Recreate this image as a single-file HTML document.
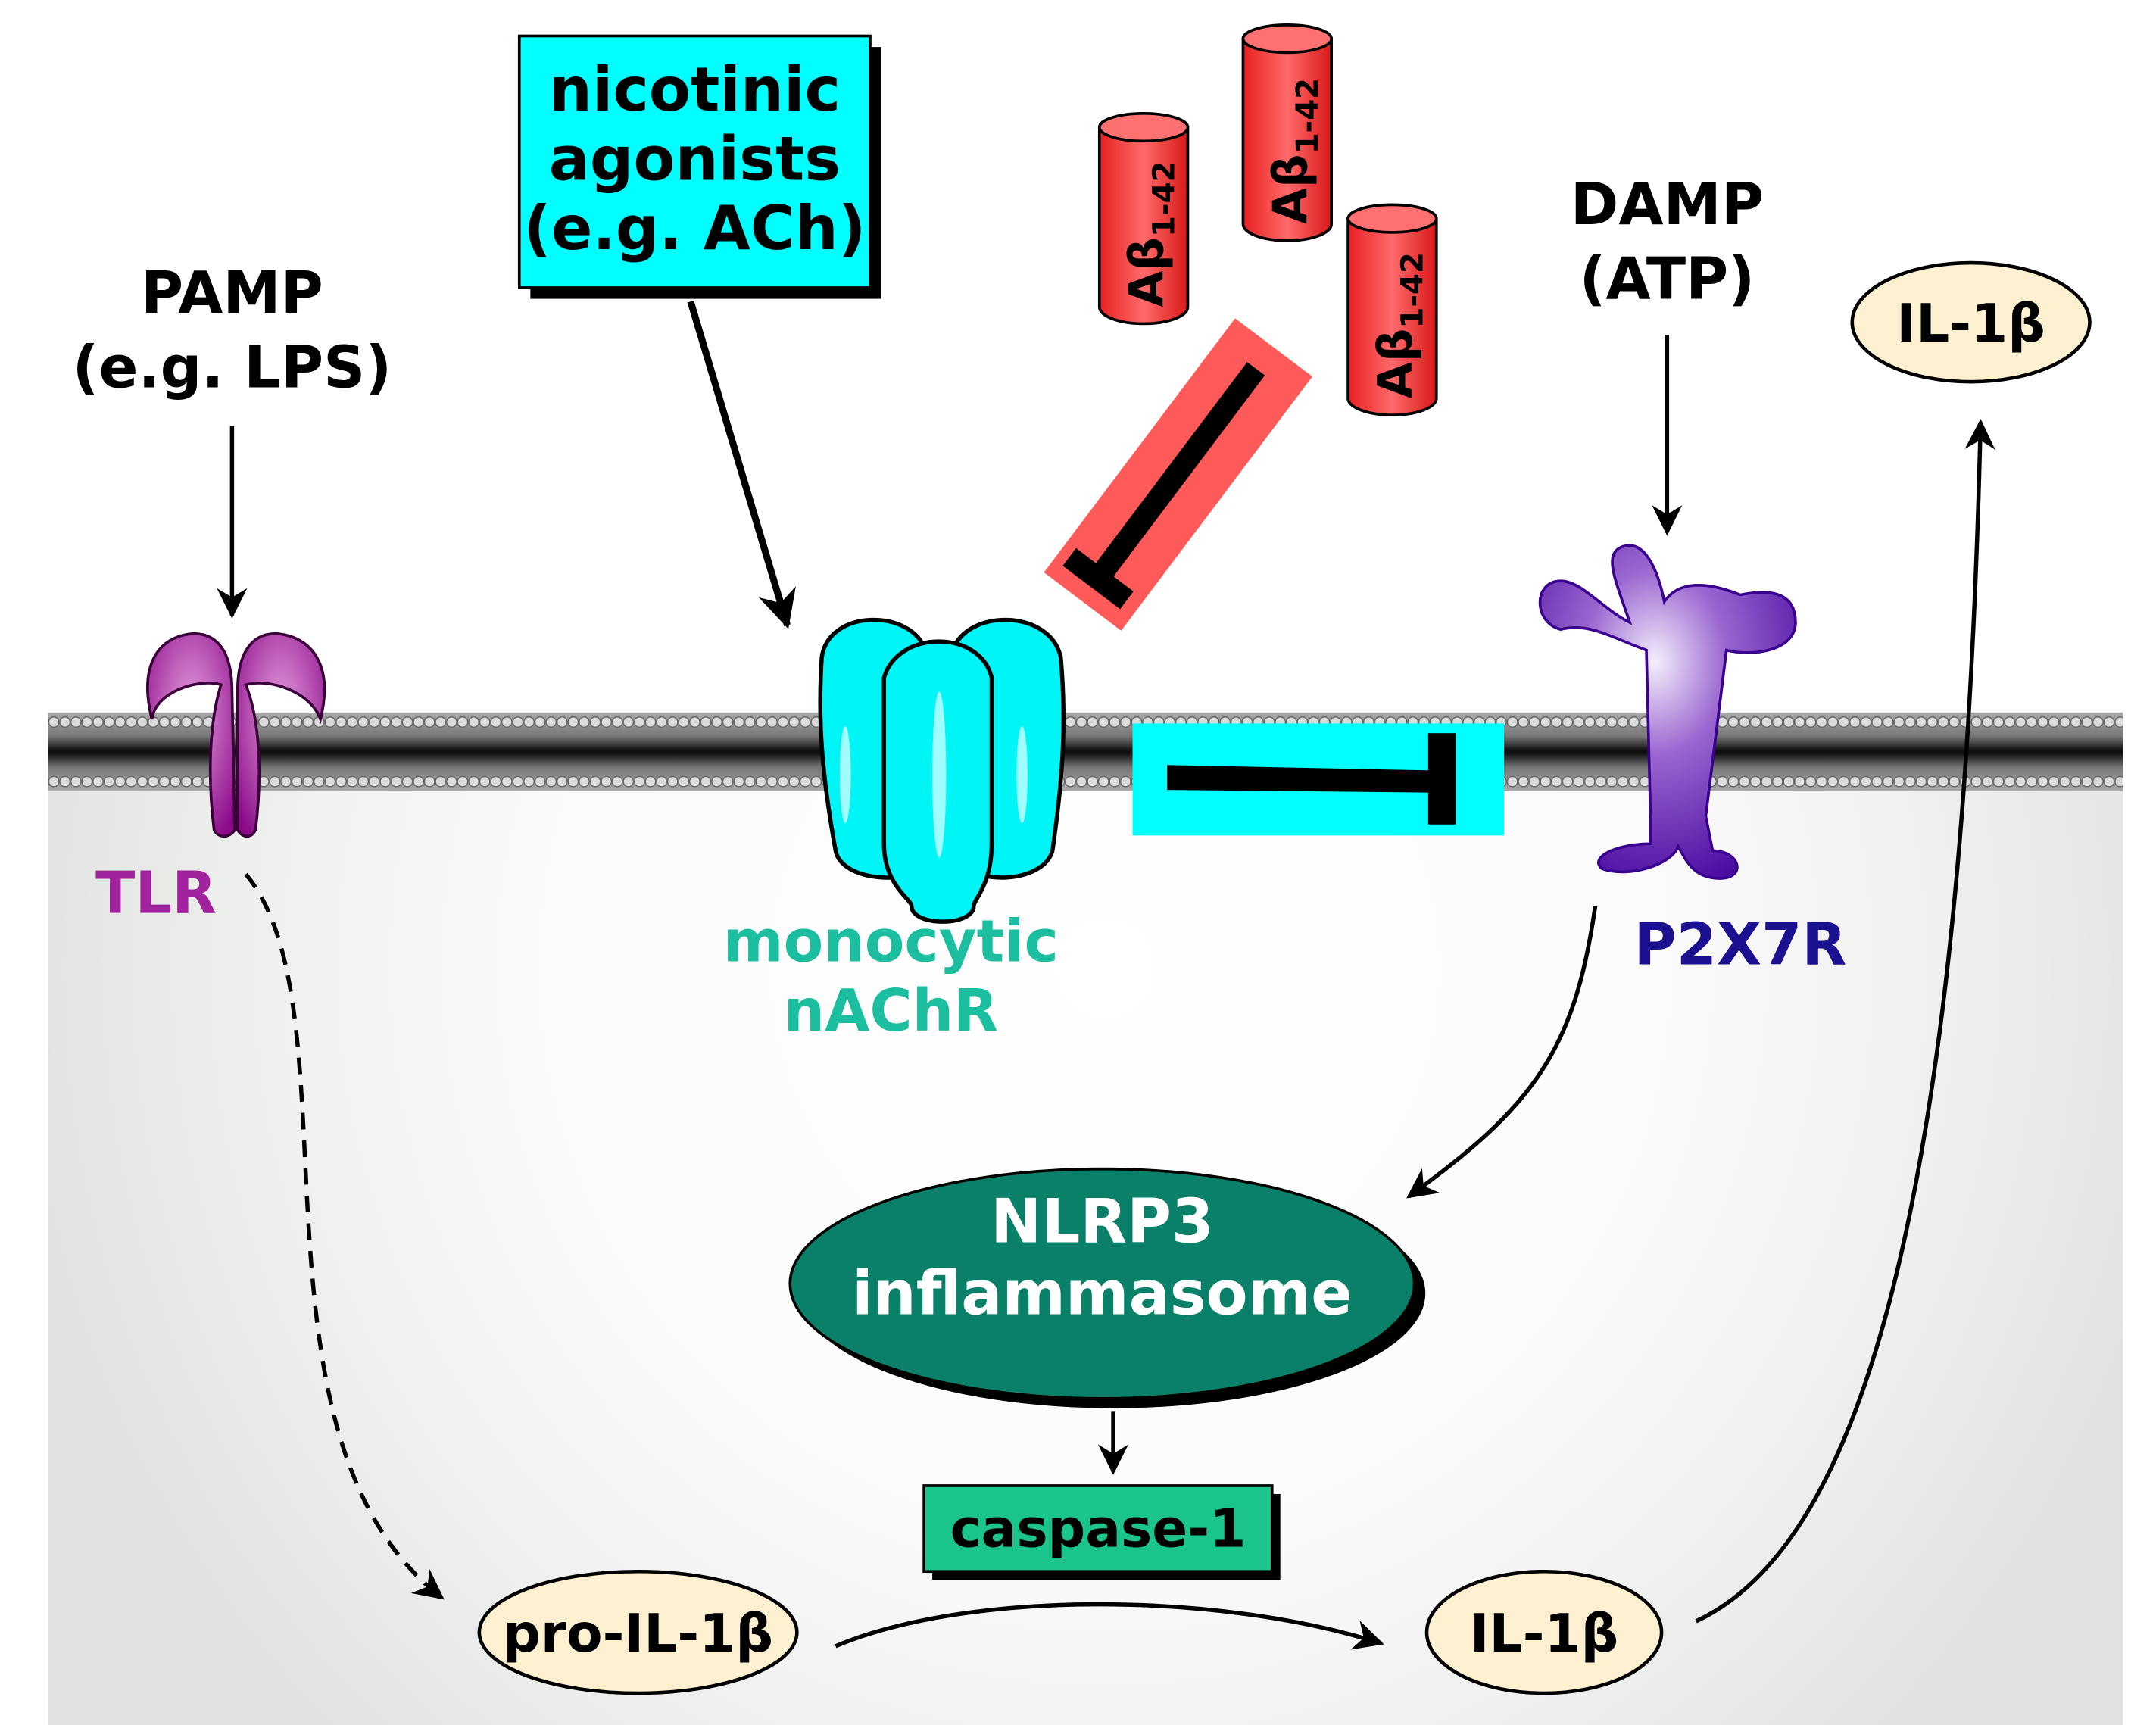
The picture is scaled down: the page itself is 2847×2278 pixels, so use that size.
<!DOCTYPE html>
<html><head><meta charset="utf-8"><style>
html,body{margin:0;padding:0;background:#fff;}
svg{display:block;}
text{font-family:"DejaVu Sans","Liberation Sans",Arial,sans-serif;font-weight:bold;}
</style></head><body>
<svg width="2847" height="2278" viewBox="0 0 1561 1247" preserveAspectRatio="none" xmlns="http://www.w3.org/2000/svg">
<defs>
<radialGradient id="bg" cx="800" cy="700" r="800" gradientUnits="userSpaceOnUse">
<stop offset="0" stop-color="#ffffff"/><stop offset="0.5" stop-color="#fbfbfb"/><stop offset="0.8" stop-color="#eceeec"/><stop offset="1" stop-color="#e0e2e0"/>
</radialGradient>
<pattern id="lipT" x="35" y="515" width="8" height="14" patternUnits="userSpaceOnUse">
<circle cx="4" cy="7" r="3.7" fill="#dcdcdc" stroke="#666" stroke-width="0.8"/>
</pattern>
<pattern id="lipB" x="35" y="558" width="8" height="14" patternUnits="userSpaceOnUse">
<circle cx="4" cy="7" r="3.7" fill="#dcdcdc" stroke="#666" stroke-width="0.8"/>
</pattern>
<linearGradient id="mem" x1="0" y1="0" x2="0" y2="1">
<stop offset="0" stop-color="#aaa"/><stop offset="0.3" stop-color="#777"/><stop offset="0.48" stop-color="#111"/><stop offset="0.52" stop-color="#111"/><stop offset="0.7" stop-color="#777"/><stop offset="1" stop-color="#aaa"/>
</linearGradient>
<linearGradient id="red" x1="0" y1="0" x2="1" y2="0"><stop offset="0" stop-color="#e82020"/><stop offset="0.5" stop-color="#ff6a6a"/><stop offset="1" stop-color="#d81818"/></linearGradient>
<radialGradient id="purp" cx="0.45" cy="0.35" r="0.7"><stop offset="0" stop-color="#f4eefc"/><stop offset="0.4" stop-color="#9a66d0"/><stop offset="1" stop-color="#4a0aa0"/></radialGradient>
<radialGradient id="mag" cx="0.5" cy="0.4" r="0.7"><stop offset="0" stop-color="#e8a0e0"/><stop offset="1" stop-color="#8a0a88"/></radialGradient>
<marker id="ah" viewBox="0 0 10 10" refX="9" refY="5" markerWidth="26" markerHeight="22" orient="auto" markerUnits="userSpaceOnUse"><path d="M0,0 L10,5 L0,10 L3,5z" fill="#000"/></marker>
<marker id="ahB" viewBox="0 0 10 10" refX="9" refY="5" markerWidth="40" markerHeight="28" orient="auto" markerUnits="userSpaceOnUse"><path d="M0,0 L10,5 L0,10 L3,5z" fill="#000"/></marker>
</defs>
<rect x="0" y="0" width="1561" height="1247" fill="#fff"/>
<rect x="35" y="572" width="1502" height="675" fill="url(#bg)"/>
<!-- membrane -->
<rect x="35" y="515" width="1502" height="57" fill="url(#mem)"/>
<rect x="35" y="515" width="1502" height="14" fill="url(#lipT)"/>
<rect x="35" y="558" width="1502" height="14" fill="url(#lipB)"/>

<!-- TLR -->
<g fill="url(#mag)" stroke="#3a003a" stroke-width="2">
<path d="M155,600 C150,560 152,520 160,495 C145,490 112,500 110,520 C100,480 115,460 140,458 C160,458 168,475 168,500 L170,600 C166,606 158,606 155,600z"/>
<path d="M185,600 C190,560 188,520 178,495 C195,490 225,500 232,520 C242,480 225,460 200,458 C180,458 172,475 172,500 L172,600 C176,606 182,606 185,600z"/>
</g>
<text x="113" y="660" font-size="42" fill="#a0229c" text-anchor="middle">TLR</text>

<!-- PAMP -->
<text x="168" y="226" font-size="42" fill="#000" text-anchor="middle">PAMP</text>
<text x="168" y="280" font-size="42" fill="#000" text-anchor="middle">(e.g. LPS)</text>
<line x1="168" y1="308" x2="168" y2="445" stroke="#000" stroke-width="3" marker-end="url(#ah)"/>

<!-- nicotinic box -->
<rect x="384" y="34" width="254" height="182" fill="#000"/>
<rect x="376" y="26" width="254" height="182" fill="#00ffff" stroke="#000" stroke-width="2"/>
<text x="503" y="80" font-size="44" text-anchor="middle">nicotinic</text>
<text x="503" y="130" font-size="44" text-anchor="middle">agonists</text>
<text x="503" y="180" font-size="44" text-anchor="middle">(e.g. ACh)</text>
<line x1="500" y1="218" x2="570" y2="452" stroke="#000" stroke-width="5" marker-end="url(#ahB)"/>

<!-- nAChR -->
<g fill="#00f6f6" stroke="#000" stroke-width="3">
<path d="M595,475 C600,440 660,440 670,470 L675,620 C670,640 610,640 605,615 C595,560 592,520 595,475z"/>
<path d="M690,470 C700,440 760,440 768,475 C772,520 770,560 762,615 C755,640 700,640 695,620 L690,470z"/>
<path d="M640,490 C650,455 710,455 718,490 L718,610 C718,640 705,650 705,655 C705,670 660,670 660,655 C660,650 640,640 640,610z"/>
</g>
<g fill="#c8ffff" opacity="0.8"><ellipse cx="680" cy="560" rx="5" ry="60"/><ellipse cx="612" cy="560" rx="4" ry="35"/><ellipse cx="740" cy="560" rx="4" ry="35"/></g>
<text x="645" y="695" font-size="42" fill="#1bbfa0" text-anchor="middle">monocytic</text>
<text x="645" y="745" font-size="42" fill="#1bbfa0" text-anchor="middle">nAChR</text>

<!-- inhibit cyan -->
<rect x="820" y="523" width="269" height="81" fill="#00ffff"/>
<polygon points="845,553 1040,557 1040,573 845,571" fill="#000"/>
<rect x="1034" y="530" width="20" height="66" fill="#000"/>

<!-- red inhibit -->
<g transform="rotate(37 853 343)">
<rect x="818" y="228" width="70" height="230" fill="#ff5a5a"/>
<rect x="844" y="248" width="16" height="190" fill="#000"/>
<rect x="826" y="430" width="52" height="16" fill="#000"/>
</g>

<!-- Abeta cylinders -->
<g stroke="#000" stroke-width="2">
<g><path d="M796,92 L796,222 A32,12 0 0,0 860,222 L860,92z" fill="url(#red)"/><ellipse cx="828" cy="92" rx="32" ry="10" fill="#ff7070"/>
<text transform="translate(842,222) rotate(-90)" font-size="34" stroke="none">Aβ<tspan font-size="22" dy="8">1-42</tspan></text></g>
<g><path d="M900,28 L900,162 A32,12 0 0,0 964,162 L964,28z" fill="url(#red)"/><ellipse cx="932" cy="28" rx="32" ry="10" fill="#ff7070"/>
<text transform="translate(946,162) rotate(-90)" font-size="34" stroke="none">Aβ<tspan font-size="22" dy="8">1-42</tspan></text></g>
<g><path d="M976,158 L976,288 A32,12 0 0,0 1040,288 L1040,158z" fill="url(#red)"/><ellipse cx="1008" cy="158" rx="32" ry="10" fill="#ff7070"/>
<text transform="translate(1022,288) rotate(-90)" font-size="34" stroke="none">Aβ<tspan font-size="22" dy="8">1-42</tspan></text></g>
</g>

<!-- DAMP -->
<text x="1207" y="162" font-size="42" text-anchor="middle">DAMP</text>
<text x="1207" y="216" font-size="42" text-anchor="middle">(ATP)</text>
<line x1="1207" y1="242" x2="1207" y2="385" stroke="#000" stroke-width="3" marker-end="url(#ah)"/>

<!-- P2X7R -->
<g fill="url(#purp)" stroke="#3a0090" stroke-width="2">
<path d="M1195,590 L1192,470 C1165,460 1150,450 1130,455 C1110,450 1110,420 1130,420 C1145,420 1160,440 1180,450 C1170,420 1160,400 1175,395 C1190,390 1200,410 1205,435 C1215,420 1235,420 1260,430 C1285,425 1300,430 1300,450 C1300,470 1270,475 1250,470 L1235,590 L1240,615 C1260,615 1265,635 1245,635 C1225,635 1220,620 1215,612 C1210,625 1180,635 1160,628 C1150,620 1170,610 1195,610z"/>
</g>
<text x="1260" y="697" font-size="42" fill="#1a1090" text-anchor="middle">P2X7R</text>

<!-- IL-1b top -->
<ellipse cx="1427" cy="233" rx="86" ry="43" fill="#fdf0d0" stroke="#000" stroke-width="2.5"/>
<text x="1427" y="247" font-size="38" text-anchor="middle">IL-1β</text>

<!-- P2X7R -> NLRP3 -->
<path d="M1155,655 C1140,760 1110,800 1020,865" fill="none" stroke="#000" stroke-width="3" marker-end="url(#ah)"/>

<!-- NLRP3 -->
<ellipse cx="806" cy="935" rx="226" ry="83" fill="#000"/>
<ellipse cx="798" cy="928" rx="226" ry="83" fill="#0a8068" stroke="#000" stroke-width="2"/>
<text x="798" y="898" font-size="44" fill="#fff" text-anchor="middle">NLRP3</text>
<text x="798" y="950" font-size="44" fill="#fff" text-anchor="middle">inflammasome</text>
<line x1="806" y1="1020" x2="806" y2="1064" stroke="#000" stroke-width="3" marker-end="url(#ah)"/>

<!-- caspase -->
<rect x="675" y="1080" width="252" height="62" fill="#000"/>
<rect x="669" y="1074" width="252" height="62" fill="#1bc48a" stroke="#000" stroke-width="2"/>
<text x="795" y="1118" font-size="38" text-anchor="middle">caspase-1</text>

<!-- pro-IL-1b -->
<ellipse cx="462" cy="1180" rx="115" ry="44" fill="#fdf0d0" stroke="#000" stroke-width="2.5"/>
<text x="462" y="1194" font-size="38" text-anchor="middle">pro-IL-1β</text>
<ellipse cx="1118" cy="1180" rx="85" ry="44" fill="#fdf0d0" stroke="#000" stroke-width="2.5"/>
<text x="1118" y="1194" font-size="38" text-anchor="middle">IL-1β</text>

<path d="M605,1190 C700,1150 880,1150 1000,1188" fill="none" stroke="#000" stroke-width="3" marker-end="url(#ah)"/>
<path d="M178,632 C260,730 170,1040 320,1155" fill="none" stroke="#000" stroke-width="3" stroke-dasharray="12,8" marker-end="url(#ah)"/>
<path d="M1228,1172 C1340,1120 1420,900 1434,305" fill="none" stroke="#000" stroke-width="3" marker-end="url(#ah)"/>
</svg>
</body></html>
